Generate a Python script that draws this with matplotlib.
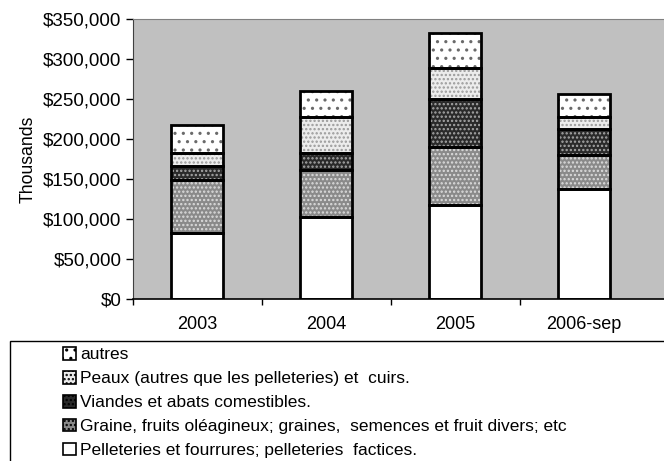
import matplotlib
matplotlib.use("Agg")
import matplotlib.pyplot as plt
from matplotlib.patches import Rectangle, Patch
from matplotlib.ticker import FuncFormatter, FixedLocator
import numpy as np

plt.rcParams['font.family'] = ['Liberation Sans', 'DejaVu Sans']
plt.rcParams['hatch.linewidth'] = 1.1

categories = ["2003", "2004", "2005", "2006-sep"]
series_names = [
    "Pelleteries et fourrures; pelleteries  factices.",
    "Graine, fruits oléagineux; graines,  semences et fruit divers; etc",
    "Viandes et abats comestibles.",
    "Peaux (autres que les pelleteries) et  cuirs.",
    "autres",
]
pelleteries = [83, 103, 117, 137]
graine = [66, 58, 73, 43]
viandes = [17, 21, 60, 32]
peaux = [16, 46, 39, 15]
autres = [36, 32, 44, 29]
values = [pelleteries, graine, viandes, peaux, autres]

styles = [
    dict(face="white", hatch=None, hcol="white"),
    dict(face="#8a8a8a", hatch="....", hcol="#dcdcdc"),
    dict(face="#2a2a2a", hatch="....", hcol="#a8a8a8"),
    dict(face="#ececec", hatch="....", hcol="#9a9a9a"),
    dict(face="white", hatch="..", hcol="#6a6a6a"),
]

fig = plt.figure(figsize=(6.64, 4.61), dpi=100)
ax = fig.add_axes([0.2, 0.351, 0.8, 0.608])
ax.set_facecolor("#c0c0c0")

x = np.arange(len(categories))
w = 0.4
bottom = np.zeros(len(categories))
for vals, st in zip(values, styles):
    v = np.array(vals) * 1000.0
    ax.bar(x, v, w, bottom=bottom, color=st["face"], hatch=st["hatch"],
           edgecolor=st["hcol"], linewidth=0, zorder=2)
    ax.bar(x, v, w, bottom=bottom, fill=False, edgecolor="black",
           linewidth=2, zorder=3)
    bottom += v

ax.set_xlim(-0.5, 3.62)
ax.set_ylim(0, 350000)
ax.yaxis.set_major_locator(FixedLocator(np.arange(0, 350001, 50000)))
ax.yaxis.set_major_formatter(FuncFormatter(lambda v, p: "${:,.0f}".format(v)))
ax.set_ylabel("Thousands", fontsize=12.7, labelpad=5)
ax.tick_params(axis="y", labelsize=13.5, length=5, width=1, direction="out",
               pad=3)

ax.set_xticks([-0.5, 0.5, 1.5, 2.5])
ax.set_xticklabels([])
ax.set_xticks(x, minor=True)
ax.set_xticklabels(categories, minor=True, fontsize=13)
ax.tick_params(axis="x", which="major", length=4, width=1, direction="out")
ax.tick_params(axis="x", which="minor", length=0, pad=12)

ax.spines["top"].set_color("#808080")
ax.spines["right"].set_visible(False)
ax.spines["left"].set_color("#404040")
ax.spines["bottom"].set_linewidth(1.2)

# legend box (extends past figure edges)
fig.patches.append(Rectangle((10/664, -0.1), 1.0, 1 - 341/461 + 0.1,
                             transform=fig.transFigure, fill=False,
                             edgecolor="black", linewidth=1))

handles = []
for name, st in zip(series_names, styles):
    handles.append(Patch(facecolor=st["face"], hatch=st["hatch"],
                         edgecolor="black", linewidth=1.2, label=name))
leg = fig.legend(handles[::-1], series_names[::-1], loc="upper left",
                 bbox_to_anchor=(63/664, 1 - 347/461), frameon=False,
                 fontsize=12.5, handlelength=0.75, handleheight=0.75,
                 handletextpad=0.25, labelspacing=0.49, borderpad=0,
                 borderaxespad=0)

fig.savefig("out.png", dpi=100)
